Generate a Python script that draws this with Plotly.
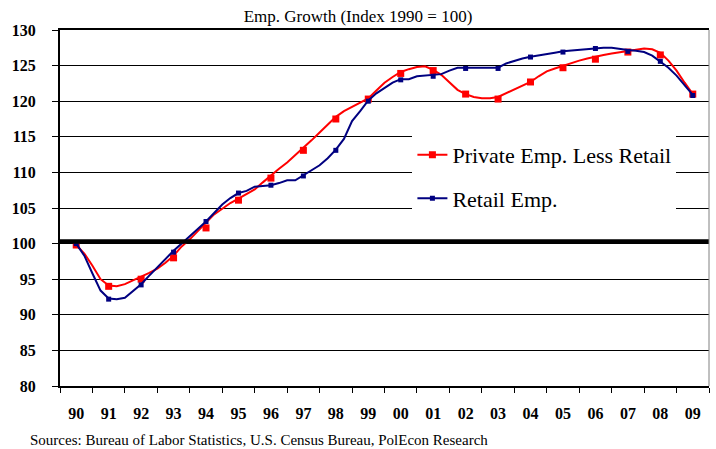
import plotly.graph_objects as go

SERIF = "Liberation Serif, Times New Roman, serif"

# quarterly readings, 1990Q1 .. 2009Q1
quarters = [1990 + i / 4 for i in range(77)]

private_less_retail = [
    99.8, 98.6, 96.9, 95.0, 94.1, 94.0, 94.3, 94.8,
    95.3, 95.9, 96.5, 97.3, 98.3, 99.6, 100.6, 101.8,
    102.9, 104.1, 104.9, 105.7, 106.3, 106.9, 107.6, 108.6,
    109.6, 110.5, 111.4, 112.4, 113.4, 114.5, 115.6, 116.7,
    117.8, 118.6, 119.2, 119.8, 120.4, 121.5, 122.6, 123.4,
    124.1, 124.5, 124.8, 124.9, 124.4, 123.7, 122.7, 121.6,
    121.0, 120.6, 120.4, 120.4, 120.6, 121.1, 121.7, 122.2,
    122.7, 123.5, 124.2, 124.6, 125.0, 125.3, 125.7, 126.0,
    126.3, 126.5, 126.7, 126.9, 127.1, 127.2, 127.4, 127.3,
    126.8, 125.7, 124.3, 122.6, 121.0,
]

retail = [
    100.0, 98.3, 95.8, 93.4, 92.3, 92.2, 92.4, 93.3,
    94.3, 95.5, 96.7, 97.9, 99.0, 100.0, 101.0, 102.1,
    103.1, 104.3, 105.5, 106.4, 107.1, 107.4, 108.0, 108.1,
    108.2, 108.5, 108.9, 108.9, 109.6, 110.2, 111.0, 112.0,
    113.2, 114.7, 117.2, 118.6, 120.1, 121.1, 121.9, 122.6,
    123.1, 123.1, 123.5, 123.6, 123.6, 123.8, 124.3, 124.7,
    124.7, 124.7, 124.7, 124.7, 124.7, 125.3, 125.7, 126.0,
    126.25, 126.4, 126.6, 126.8, 127.0, 127.1, 127.2, 127.4,
    127.5, 127.5, 127.5, 127.3, 127.2, 127.1, 126.9, 126.4,
    125.6, 124.7, 123.6, 122.2, 120.9,
]

# annual markers
years = list(range(1990, 2010))
year_labels = ["90", "91", "92", "93", "94", "95", "96", "97", "98", "99",
               "00", "01", "02", "03", "04", "05", "06", "07", "08", "09"]
private_marks = [99.8, 94.0, 95.0, 98.0, 102.2, 106.1, 109.2, 113.1, 117.5, 120.3,
                 123.9, 124.3, 121.0, 120.3, 122.7, 124.7, 125.9, 126.9, 126.5, 121.0]
retail_marks = [100.0, 92.2, 94.2, 98.8, 103.1, 107.1, 108.2, 109.5, 113.1, 120.0,
                123.0, 123.5, 124.6, 124.6, 126.2, 126.9, 127.4, 127.0, 125.6, 120.8]

RED = "#FF0000"
NAVY = "#000080"

series = [
    ("Private Emp. Less Retail", private_less_retail, private_marks, RED, 7),
    ("Retail Emp.", retail, retail_marks, NAVY, 5),
]

fig = go.Figure()
for name, line_vals, mark_vals, color, msize in series:
    fig.add_trace(go.Scatter(x=quarters, y=line_vals, mode="lines", line=dict(color=color, width=2),
                             showlegend=False, legendgroup=name))
    fig.add_trace(go.Scatter(x=years, y=mark_vals, mode="markers",
                             marker=dict(symbol="square", size=msize, color=color),
                             showlegend=False, legendgroup=name))
    # legend entry only
    fig.add_trace(go.Scatter(x=[None], y=[None], mode="lines+markers", name=name, legendgroup=name,
                             line=dict(color=color, width=2),
                             marker=dict(symbol="square", size=msize, color=color)))

fig.update_layout(
    width=716, height=449,
    template="plotly_white",
    paper_bgcolor="white", plot_bgcolor="white",
    margin=dict(l=60, r=7, t=30, b=63, autoexpand=False),
    font=dict(family=SERIF, color="black"),
    title=dict(text="Emp. Growth (Index 1990 = 100)", x=0.5, xref="container", y=0.965, yanchor="middle",
               font=dict(family=SERIF, size=17, color="black")),
    legend=dict(x=0.543, y=0.708, xanchor="left", yanchor="top", bgcolor="white", borderwidth=0,
                font=dict(family=SERIF, size=22, color="black"), itemwidth=30,
                traceorder="grouped", tracegroupgap=12),
    shapes=[
        dict(type="line", xref="paper", yref="y", x0=0, x1=1, y0=100.3, y1=100.3,
             line=dict(color="black", width=4.5)),
        dict(type="line", xref="paper", yref="paper", x0=1, x1=1, y0=0, y1=1,
             line=dict(color="#808080", width=1)),
    ],
    annotations=[
        dict(text="Sources: Bureau of Labor Statistics, U.S. Census Bureau, PolEcon Research",
             xref="paper", yref="paper", x=-0.05, y=-0.152, xanchor="left", yanchor="middle",
             showarrow=False, font=dict(family=SERIF, size=15, color="black")),
    ],
)

fig.update_xaxes(
    range=[1989.5, 2009.5], tickmode="array", tickvals=years, ticktext=year_labels,
    ticks="", showgrid=False, zeroline=False, automargin=False,
    showline=True, linecolor="black", linewidth=1.5, mirror=True,
    tickfont=dict(family=SERIF, size=16, color="black", weight="bold"), ticklabelstandoff=12,
    minor=dict(tickmode="array", tickvals=[y - 0.5 for y in years] + [2009.5], ticks="outside",
               ticklen=5, tickcolor="black", tickwidth=1, showgrid=False),
)
fig.update_yaxes(
    range=[80, 130], dtick=5, tick0=80, showgrid=True, gridcolor="black", gridwidth=1,
    zeroline=False, showline=True, linecolor="black", linewidth=2, automargin=False,
    ticks="outside", ticklen=6, tickcolor="black", tickwidth=1,
    tickfont=dict(family=SERIF, size=16, color="black", weight="bold"), ticklabelstandoff=13,
)

# the page's default body margin would shift the figure; remove it
fig.write_html("out.html", config={"displayModeBar": False},
               post_script="document.body.style.margin = '0';")
